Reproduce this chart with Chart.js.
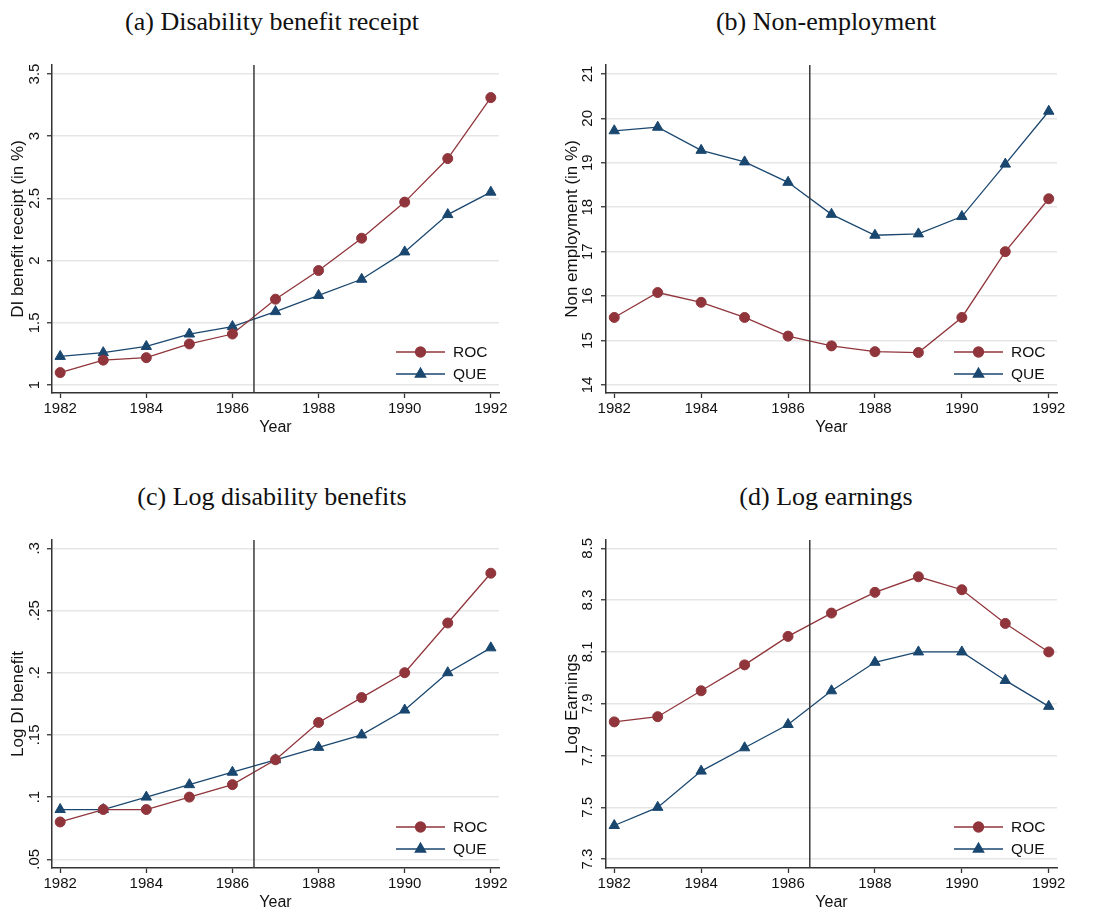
<!DOCTYPE html>
<html>
<head>
<meta charset="utf-8">
<script src="https://cdn.jsdelivr.net/npm/chart.js@4.4.0/dist/chart.umd.min.js"></script>
<style>
  html, body { margin: 0; padding: 0; background: #fff; overflow: hidden; }
  body { width: 1105px; height: 911px; position: relative; }
  .panel { position: absolute; }
  .ttl { position: absolute; font-family: 'Liberation Serif', 'Times New Roman', serif; font-size: 26px;
         line-height: 30px; height: 30px; width: 500px; text-align: center; color: #111; white-space: nowrap; }
</style>
</head>
<body>
<div class="ttl" style="left:22px; top:7px;">(a) Disability benefit receipt</div>
<div class="ttl" style="left:576px; top:7px;">(b) Non-employment</div>
<div class="ttl" style="left:22px; top:482px;">(c) Log disability benefits</div>
<div class="ttl" style="left:576px; top:482px;">(d) Log earnings</div>

<canvas id="ca" class="panel" style="left:0px; top:0px;" width="552" height="455"></canvas>
<canvas id="cb" class="panel" style="left:554px; top:0px;" width="551" height="455"></canvas>
<canvas id="cc" class="panel" style="left:0px; top:475px;" width="552" height="455"></canvas>
<canvas id="cd" class="panel" style="left:554px; top:475px;" width="551" height="455"></canvas>

<script>
// ---------------- DATA ----------------
const years = [1982, 1983, 1984, 1985, 1986, 1987, 1988, 1989, 1990, 1991, 1992];
const xTickValues = [1982, 1984, 1986, 1988, 1990, 1992];
const reformYear = 1986.5;
const seriesNames = ['ROC', 'QUE'];

// (a) Disability benefit receipt
const diReceiptROC = [1.10, 1.20, 1.22, 1.33, 1.41, 1.69, 1.92, 2.18, 2.47, 2.82, 3.31];
const diReceiptQUE = [1.23, 1.26, 1.31, 1.41, 1.47, 1.59, 1.72, 1.85, 2.07, 2.37, 2.55];
const diReceiptTicks = [1, 1.5, 2, 2.5, 3, 3.5];
const diReceiptTickLabels = ['1', '1.5', '2', '2.5', '3', '3.5'];

// (b) Non-employment
const nonEmpROC = [15.52, 16.08, 15.86, 15.52, 15.10, 14.88, 14.75, 14.73, 15.52, 17.00, 18.19];
const nonEmpQUE = [19.72, 19.80, 19.28, 19.02, 18.56, 17.84, 17.37, 17.40, 17.79, 18.97, 20.16];
const nonEmpTicks = [14, 15, 16, 17, 18, 19, 20, 21];
const nonEmpTickLabels = ['14', '15', '16', '17', '18', '19', '20', '21'];

// (c) Log disability benefits
const logDIROC = [0.08, 0.09, 0.09, 0.10, 0.11, 0.13, 0.16, 0.18, 0.20, 0.24, 0.28];
const logDIQUE = [0.09, 0.09, 0.10, 0.11, 0.12, 0.13, 0.14, 0.15, 0.17, 0.20, 0.22];
const logDITicks = [0.05, 0.10, 0.15, 0.20, 0.25, 0.30];
const logDITickLabels = ['.05', '.1', '.15', '.2', '.25', '.3'];

// (d) Log earnings
const logEarnROC = [7.83, 7.85, 7.95, 8.05, 8.16, 8.25, 8.33, 8.39, 8.34, 8.21, 8.10];
const logEarnQUE = [7.43, 7.50, 7.64, 7.73, 7.82, 7.95, 8.06, 8.10, 8.10, 7.99, 7.89];
const logEarnTicks = [7.3, 7.5, 7.7, 7.9, 8.1, 8.3, 8.5];
const logEarnTickLabels = ['7.3', '7.5', '7.7', '7.9', '8.1', '8.3', '8.5'];

// ---------------- STYLE ----------------
const COL_ROC = '#90353B';
const COL_QUE = '#1A476F';
const AXIS_COL = '#333333';
const GRID_COL = '#e6e6e6';
const SANS = "'Liberation Sans', Arial, Helvetica, sans-serif";

const refLinePlugin = {
  id: 'refLine',
  afterDatasetsDraw(chart) {
    const {ctx, chartArea, scales} = chart;
    const x = scales.x.getPixelForValue(reformYear);
    ctx.save();
    ctx.strokeStyle = '#3a3a3a';
    ctx.lineWidth = 1.5;
    ctx.beginPath();
    ctx.moveTo(x, chartArea.top);
    ctx.lineTo(x, chartArea.bottom);
    ctx.stroke();
    ctx.restore();
  }
};

const legendPlugin = {
  id: 'insideLegend',
  afterDraw(chart) {
    const {ctx, chartArea} = chart;
    const rowsFromBottom = [41, 19];
    ctx.save();
    chart.data.datasets.forEach((ds, i) => {
      const y = chartArea.bottom - rowsFromBottom[i];
      const x0 = chartArea.right - 103, x1 = chartArea.right - 54;
      const xm = (x0 + x1) / 2;
      ctx.strokeStyle = ds.borderColor;
      ctx.lineWidth = ds.borderWidth;
      ctx.beginPath();
      ctx.moveTo(x0, y); ctx.lineTo(x1, y);
      ctx.stroke();
      ctx.fillStyle = ds.backgroundColor;
      ctx.strokeStyle = ds.borderColor;
      Chart.helpers.drawPoint(ctx, {pointStyle: ds.pointStyle, radius: ds.pointRadius, rotation: 0, borderWidth: 1}, xm, y);
      ctx.fillStyle = '#111';
      ctx.font = '15.5px ' + SANS;
      ctx.textAlign = 'left';
      ctx.textBaseline = 'middle';
      ctx.fillText(ds.label, chartArea.right - 46, y + 1);
    });
    ctx.restore();
  }
};

function makeChart(id, cfg) {
  const ctx = document.getElementById(id);
  const yTicks = cfg.yTicks, yLabels = cfg.yLabels;
  return new Chart(ctx, {
    type: 'line',
    data: {
      datasets: [
        { label: seriesNames[0], data: years.map((yr, i) => ({x: yr, y: cfg.roc[i]})),
          borderColor: COL_ROC, backgroundColor: COL_ROC, borderWidth: 1.3,
          pointStyle: 'circle', pointRadius: 5, pointBorderWidth: 1, clip: false },
        { label: seriesNames[1], data: years.map((yr, i) => ({x: yr, y: cfg.que[i]})),
          borderColor: COL_QUE, backgroundColor: COL_QUE, borderWidth: 1.3,
          pointStyle: 'triangle', pointRadius: 6, pointBorderWidth: 1, clip: false }
      ]
    },
    options: {
      responsive: false,
      animation: false,
      events: [],
      layout: { padding: { top: 65, right: cfg.padRight, bottom: 0, left: 0 } },
      plugins: { legend: { display: false }, title: { display: false }, tooltip: { enabled: false } },
      elements: { line: { tension: 0 } },
      scales: {
        x: {
          type: 'linear', min: 1981.81, max: 1992.19,
          afterBuildTicks: s => { s.ticks = xTickValues.map(v => ({value: v})); },
          afterFit: s => { s.height = 62; s.paddingLeft = 0; s.paddingRight = 0; s.paddingTop = 0; s.paddingBottom = 0; },
          grid: { drawOnChartArea: false, drawTicks: true, tickLength: 5, tickColor: AXIS_COL, tickWidth: 1.3 },
          border: { display: true, color: AXIS_COL, width: 1.5 },
          ticks: { autoSkip: false, maxRotation: 0, minRotation: 0, padding: 2, color: '#111',
                   font: { family: SANS, size: 15 }, callback: v => String(v) },
          title: { display: true, text: 'Year', color: '#111', font: { family: SANS, size: 16 },
                   padding: { top: 0, bottom: 18 } }
        },
        y: {
          type: 'linear', min: cfg.yMin, max: cfg.yMax,
          afterBuildTicks: s => { s.ticks = yTicks.map(v => ({value: v})); },
          afterFit: s => { s.width = 52; s.paddingLeft = 0; s.paddingRight = 0; s.paddingTop = 0; s.paddingBottom = 0; },
          grid: { drawOnChartArea: true, color: GRID_COL, lineWidth: 1.5, drawTicks: true, tickLength: 5,
                  tickColor: AXIS_COL, tickWidth: 1.3 },
          border: { display: true, color: AXIS_COL, width: 1.5 },
          ticks: { autoSkip: false, minRotation: 90, maxRotation: 90, crossAlign: 'center',
                   padding: cfg.tickPad, color: '#111', font: { family: SANS, size: 15 },
                   callback: (v, i) => yLabels[i] },
          title: { display: true, text: cfg.yTitle, color: '#111', font: { family: SANS, size: 17 },
                   padding: { top: 8, bottom: 0 } }
        }
      }
    },
    plugins: [refLinePlugin, legendPlugin]
  });
}

makeChart('ca', { roc: diReceiptROC, que: diReceiptQUE, yMin: 0.936, yMax: 3.572,
  yTicks: diReceiptTicks, yLabels: diReceiptTickLabels, yTitle: 'DI benefit receipt (in %)', padRight: 53, tickPad: 1.6 });
makeChart('cb', { roc: nonEmpROC, que: nonEmpQUE, yMin: 13.82, yMax: 21.2,
  yTicks: nonEmpTicks, yLabels: nonEmpTickLabels, yTitle: 'Non employment (in %)', padRight: 48, tickPad: 5.2 });
makeChart('cc', { roc: logDIROC, que: logDIQUE, yMin: 0.043, yMax: 0.3067,
  yTicks: logDITicks, yLabels: logDITickLabels, yTitle: 'Log DI benefit', padRight: 53, tickPad: 1.6 });
makeChart('cd', { roc: logEarnROC, que: logEarnQUE, yMin: 7.266, yMax: 8.532,
  yTicks: logEarnTicks, yLabels: logEarnTickLabels, yTitle: 'Log Earnings', padRight: 48, tickPad: 3.1 });
</script>
</body>
</html>
